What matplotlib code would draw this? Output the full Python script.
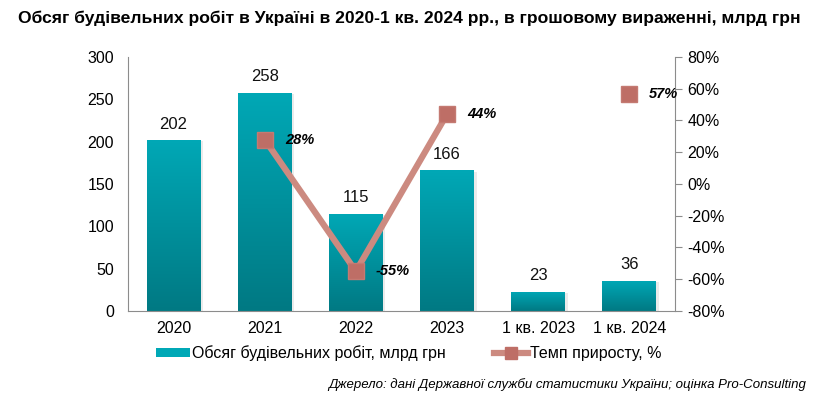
import numpy as np
import matplotlib
matplotlib.use("Agg")
import matplotlib.pyplot as plt
from matplotlib.colors import LinearSegmentedColormap
from matplotlib.lines import Line2D
from matplotlib.patches import Rectangle

plt.rcParams['font.family'] = ['Liberation Sans', 'DejaVu Sans']

categories = ["2020", "2021", "2022", "2023", "1 кв. 2023", "1 кв. 2024"]
volume = [202, 258, 115, 166, 23, 36]
growth = [np.nan, 28, -55, 44, np.nan, 57]
growth_labels = ["", "28%", "-55%", "44%", "", "57%"]
left_ticks = [0, 50, 100, 150, 200, 250, 300]
right_ticks = [-80, -60, -40, -20, 0, 20, 40, 60, 80]

title = "Обсяг будівельних робіт в Україні в 2020-1 кв. 2024 рр., в грошовому вираженні, млрд грн"
source = "Джерело: дані Державної служби статистики України; оцінка Pro-Consulting"
bar_name = "Обсяг будівельних робіт, млрд грн"
line_name = "Темп приросту, %"

bar_top = "#00A8B6"
bar_bot = "#007983"
line_col = "#CC8A80"
marker_col = "#BE6E66"

fig = plt.figure(figsize=(8.18, 3.98), dpi=100)
ax = fig.add_axes([0.1565, 0.2186, 0.6685, 0.6382])
ax2 = ax.twinx()

x = np.arange(len(categories))
bw = 0.59
cmap = LinearSegmentedColormap.from_list("bar", [bar_bot, bar_top])
grad = np.linspace(0, 1, 256).reshape(-1, 1)
bars = ax.bar(x, volume, width=bw, color="none", edgecolor="none", zorder=2)
for b, v in zip(bars, volume):
    x0 = b.get_x()
    sh = Rectangle((x0 + 0.03, 0), bw, v - 1.5, color="#000000", alpha=0.08, zorder=1, lw=0)
    ax.add_patch(sh)
    im = ax.imshow(grad, extent=[x0, x0 + bw, 0, v], origin="lower", cmap=cmap,
                   aspect="auto", zorder=2)
    im.set_clip_path(b)
    ax.text(b.get_x() + bw / 2, v + 10, str(v), ha="center", va="bottom",
            fontsize=12, color="#111111")

ax.set_xlim(-0.5, len(categories) - 0.5)
ax.set_ylim(0, 300)
ax.set_yticks(left_ticks)
ax.set_xticks(x)
ax.set_xticklabels(categories, fontsize=11.5)
ax.tick_params(axis="y", labelsize=11.5, length=0, pad=10)
ax.tick_params(axis="x", length=0, pad=7)
for s in ["top", "right"]:
    ax.spines[s].set_visible(False)
ax.spines["left"].set_color("#8C8C8C")
ax.spines["bottom"].set_color("#8C8C8C")

g = np.array(growth, dtype=float)
ax2.plot(x, g, color=line_col, lw=4.5, zorder=3, solid_capstyle="butt")
ax2.plot(x, g, ls="none", marker="s", ms=11, mfc=marker_col, mec="#C47A72", zorder=4)
for xi, gv, lab in zip(x, g, growth_labels):
    if lab:
        ax2.text(xi + 0.22, gv, lab, ha="left", va="center", fontsize=10.5,
                 fontweight="bold", fontstyle="italic", color="#000000")
ax2.set_ylim(-80, 80)
ax2.set_yticks(right_ticks)
ax2.set_yticklabels([f"{t}%" for t in right_ticks])
ax2.tick_params(axis="y", labelsize=11.5, length=5, direction="out", color="#8C8C8C", pad=4)
for s in ["top", "left", "bottom"]:
    ax2.spines[s].set_visible(False)
ax2.spines["right"].set_color("#8C8C8C")

handles = [
    Rectangle((0, 0), 1, 1, facecolor=bar_top, edgecolor="none"),
    Line2D([0], [0], color=line_col, lw=4.5, marker="s", ms=8, mfc=marker_col, mec=marker_col),
]
fig.legend(handles, [bar_name, line_name], loc="center", bbox_to_anchor=(0.5, 0.112),
           ncol=2, frameon=False, fontsize=11.5, handlelength=2.1, handletextpad=0.15,
           columnspacing=3.0, handleheight=0.5)

fig.text(0.5, 0.955, title, ha="center", va="center", fontsize=12.6, fontweight="bold")
fig.text(0.985, 0.035, source, ha="right", va="center", fontsize=9.5, fontstyle="italic")

fig.savefig("out.png", dpi=100)
